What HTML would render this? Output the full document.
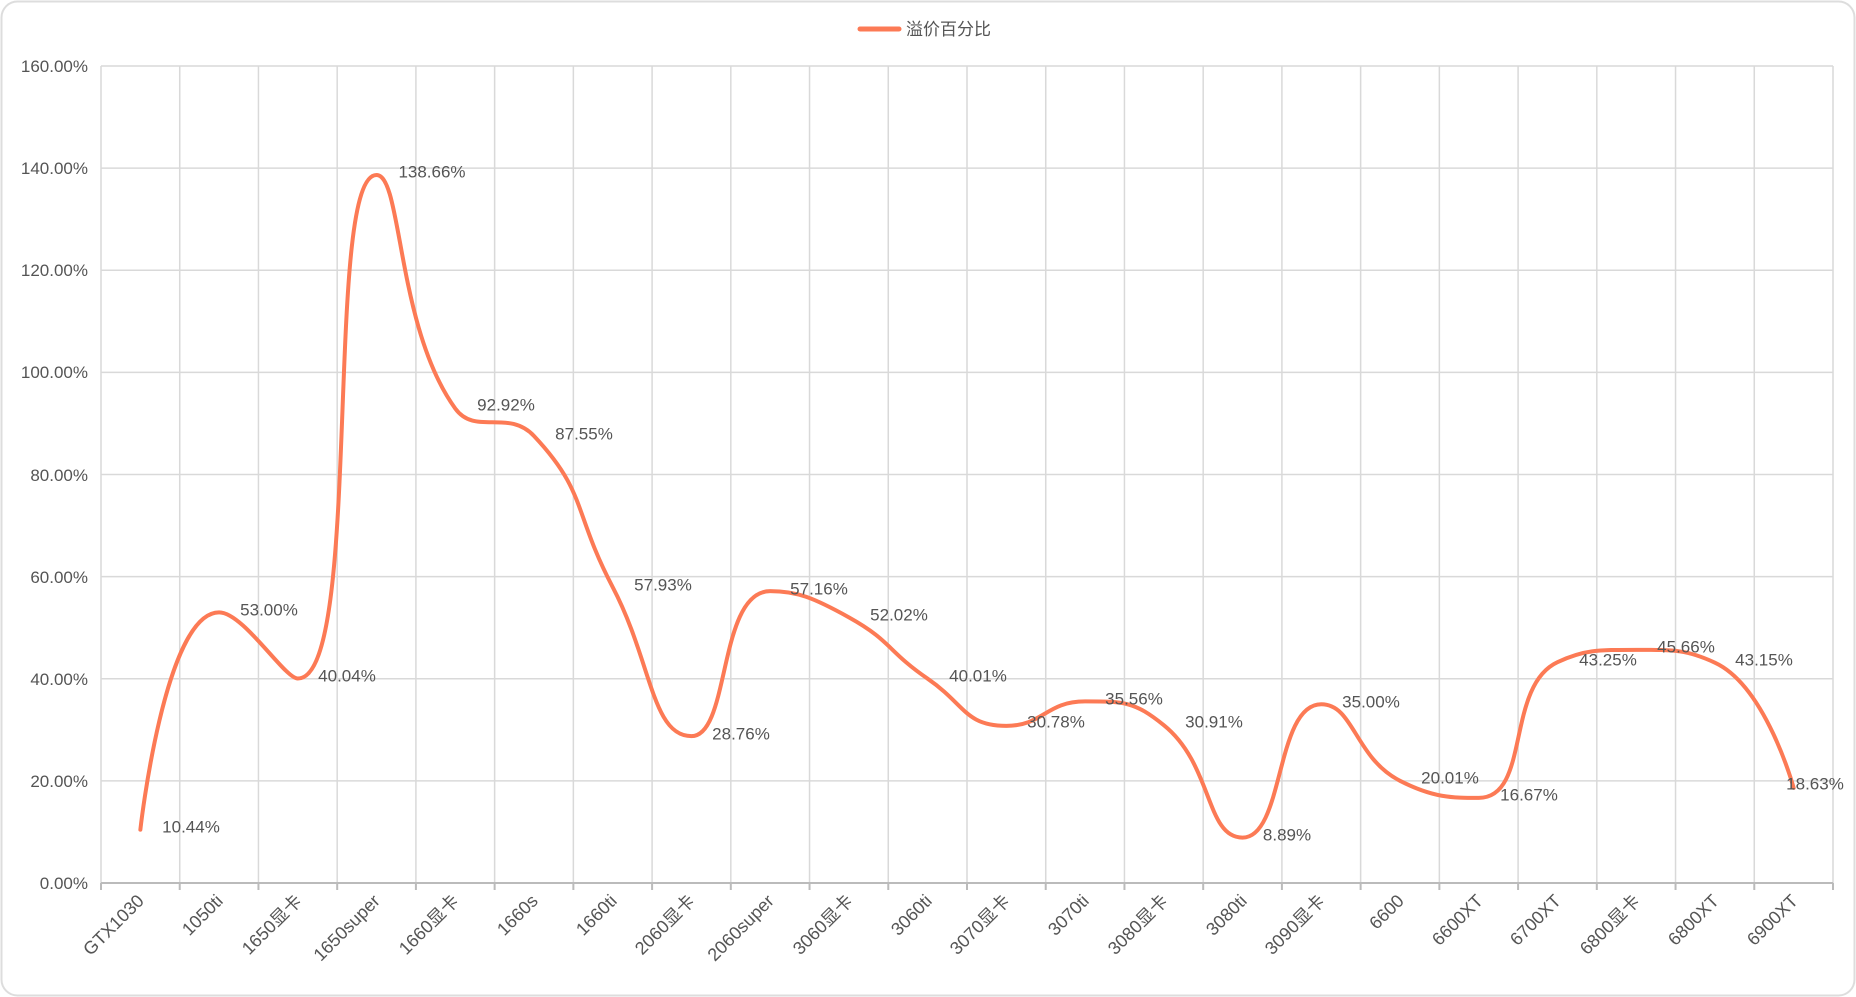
<!DOCTYPE html>
<html><head><meta charset="utf-8"><style>
html,body{margin:0;padding:0;background:#fff;width:1856px;height:997px;overflow:hidden}
svg text{font-family:"Liberation Sans","Noto Sans CJK SC",sans-serif;fill:#555}
</style></head><body>
<svg id="s" width="1856" height="997" xmlns="http://www.w3.org/2000/svg">
<rect x="1.5" y="1.5" width="1853" height="994" rx="16" fill="#fff" stroke="#ddd" stroke-width="2"/>
<g id="grid" stroke="#d9d9d9" stroke-width="1.5"></g>
<line x1="101" y1="883" x2="1833" y2="883" stroke="#bbb" stroke-width="2"/>
<g id="ticks" stroke="#bbb" stroke-width="2"></g>
<path id="curve" fill="none" stroke="#fc7a55" stroke-width="4" stroke-linecap="round" stroke-linejoin="round"/>
<line x1="860" y1="29" x2="899" y2="29" stroke="#fc7a55" stroke-width="5" stroke-linecap="round"/>
<text x="906" y="35" font-size="17">溢价百分比</text>
<g font-size="17" text-anchor="end">
<text x="88" y="889">0.00%</text>
<text x="88" y="787">20.00%</text>
<text x="88" y="685">40.00%</text>
<text x="88" y="583">60.00%</text>
<text x="88" y="481">80.00%</text>
<text x="88" y="378">100.00%</text>
<text x="88" y="276">120.00%</text>
<text x="88" y="174">140.00%</text>
<text x="88" y="72">160.00%</text>
</g>
<g font-size="17" text-anchor="middle" dominant-baseline="middle">
<text x="191" y="828">10.44%</text>
<text x="269" y="611">53.00%</text>
<text x="347" y="677">40.04%</text>
<text x="432" y="173">138.66%</text>
<text x="506" y="406">92.92%</text>
<text x="584" y="435">87.55%</text>
<text x="663" y="586">57.93%</text>
<text x="741" y="735">28.76%</text>
<text x="819" y="590">57.16%</text>
<text x="899" y="616">52.02%</text>
<text x="978" y="677">40.01%</text>
<text x="1056" y="723">30.78%</text>
<text x="1134" y="700">35.56%</text>
<text x="1214" y="723">30.91%</text>
<text x="1287" y="836">8.89%</text>
<text x="1371" y="703">35.00%</text>
<text x="1450" y="779">20.01%</text>
<text x="1529" y="796">16.67%</text>
<text x="1608" y="661">43.25%</text>
<text x="1686" y="648">45.66%</text>
<text x="1764" y="661">43.15%</text>
<text x="1815" y="785">18.63%</text>
</g>
<g font-size="18" text-anchor="end">
<text transform="translate(145,902) rotate(-45)">GTX1030</text>
<text transform="translate(224,902) rotate(-45)">1050ti</text>
<text transform="translate(303,902) rotate(-45)">1650显卡</text>
<text transform="translate(381,902) rotate(-45)">1650super</text>
<text transform="translate(460,902) rotate(-45)">1660显卡</text>
<text transform="translate(539,902) rotate(-45)">1660s</text>
<text transform="translate(618,902) rotate(-45)">1660ti</text>
<text transform="translate(696,902) rotate(-45)">2060显卡</text>
<text transform="translate(775,902) rotate(-45)">2060super</text>
<text transform="translate(854,902) rotate(-45)">3060显卡</text>
<text transform="translate(933,902) rotate(-45)">3060ti</text>
<text transform="translate(1011,902) rotate(-45)">3070显卡</text>
<text transform="translate(1090,902) rotate(-45)">3070ti</text>
<text transform="translate(1169,902) rotate(-45)">3080显卡</text>
<text transform="translate(1248,902) rotate(-45)">3080ti</text>
<text transform="translate(1326,902) rotate(-45)">3090显卡</text>
<text transform="translate(1405,902) rotate(-45)">6600</text>
<text transform="translate(1484,902) rotate(-45)">6600XT</text>
<text transform="translate(1562,902) rotate(-45)">6700XT</text>
<text transform="translate(1641,902) rotate(-45)">6800显卡</text>
<text transform="translate(1720,902) rotate(-45)">6800XT</text>
<text transform="translate(1799,902) rotate(-45)">6900XT</text>
</g>
</svg>
<script>
var NS="http://www.w3.org/2000/svg";
var g=document.getElementById('grid'),t=document.getElementById('ticks');
function ln(p,a,b,c,d){var l=document.createElementNS(NS,'line');l.setAttribute('x1',a);l.setAttribute('y1',b);l.setAttribute('x2',c);l.setAttribute('y2',d);p.appendChild(l);}
var X0=101,X1=1833,Y0=883,YT=66,w=(X1-X0)/22,k=(Y0-YT)/160;
for(var i=1;i<=8;i++){var y=Y0-i*20*k;ln(g,X0,y,X1,y);}
for(var i=0;i<=22;i++){var x=X0+i*w;ln(g,x,YT,x,Y0);ln(t,x,Y0,x,Y0+7);}
var v=[10.44,53.00,40.04,138.66,92.92,87.55,57.93,28.76,57.16,52.02,40.01,30.78,35.56,30.91,8.89,35.00,20.01,16.67,43.25,45.66,43.15,18.63];
var p=v.map(function(val,i){return [X0+w*(i+0.5),Y0-val*k];});
var n=p.length,sm=0.5;
var mn=Math.min,mx=Math.max;
var d='M'+p[0][0]+','+p[0][1];
var cpx0=p[0][0],cpy0=p[0][1];
for(var i=1;i<n;i++){
 var x=p[i][0],y=p[i][1],px=p[i-1][0],py=p[i-1][1],cpx1,cpy1,ncx=x,ncy=y;
 if(i<n-1){
  var nx=p[i+1][0],ny=p[i+1][1];
  var vx=nx-px,vy=ny-py;
  var l0=Math.hypot(x-px,y-py),l1=Math.hypot(nx-x,ny-y);
  var r=l1/(l1+l0);
  cpx1=x-vx*sm*(1-r);cpy1=y-vy*sm*(1-r);
  ncx=x+vx*sm*r;ncy=y+vy*sm*r;
  ncx=mn(ncx,mx(nx,x));ncy=mn(ncy,mx(ny,y));
  ncx=mx(ncx,mn(nx,x));ncy=mx(ncy,mn(ny,y));
  vx=ncx-x;vy=ncy-y;
  cpx1=x-vx*l0/l1;cpy1=y-vy*l0/l1;
  cpx1=mn(cpx1,mx(px,x));cpy1=mn(cpy1,mx(py,y));
  cpx1=mx(cpx1,mn(px,x));cpy1=mx(cpy1,mn(py,y));
  vx=x-cpx1;vy=y-cpy1;
  ncx=x+vx*l1/l0;ncy=y+vy*l1/l0;
 }else{cpx1=x;cpy1=y;}
 d+=' C'+cpx0+','+cpy0+' '+cpx1+','+cpy1+' '+x+','+y;
 cpx0=ncx;cpy0=ncy;
}
document.getElementById('curve').setAttribute('d',d);
</script>
</body></html>
